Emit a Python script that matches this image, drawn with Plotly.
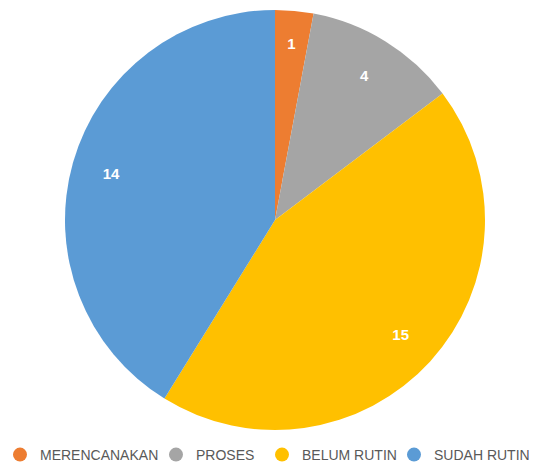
import plotly.graph_objects as go

categories = ["MERENCANAKAN", "PROSES", "BELUM RUTIN", "SUDAH RUTIN"]
values = [1, 4, 15, 14]
colors = ["#ED7D31", "#A5A5A5", "#FFC000", "#5B9BD5"]
legend_widths = [111, 61, 87, 90]

W, H = 539, 480  # figure taller than the 463px window: legend is clipped at the bottom like the reference
CX, CY, R = 275, 220, 210  # pie centre / radius in pixels from the top-left


def domain(r):
    return dict(x=[(CX - r) / W, (CX + r) / W], y=[(H - CY - r) / H, (H - CY + r) / H])


label_font = dict(family="Liberation Sans, Arial", size=15, color="white")
clear = ["rgba(0,0,0,0)"] * len(values)
small = [v / sum(values) < 0.05 for v in values]

fig = go.Figure()
fig.add_trace(go.Pie(
    labels=categories, values=values, sort=False, direction="clockwise",
    rotation=0, marker=dict(colors=colors, line=dict(width=0)),
    textinfo="none", showlegend=False, hoverinfo="label+value", domain=domain(R),
))
# transparent rings carrying the value labels
fig.add_trace(go.Pie(
    labels=categories, values=values, sort=False, direction="clockwise",
    rotation=0, hole=0.62, marker=dict(colors=clear, line=dict(width=0)),
    textposition="inside", insidetextorientation="horizontal", textfont=label_font,
    texttemplate=["" if s else "<b>%{value}</b>" for s in small],
    showlegend=False, hoverinfo="skip", domain=domain(R),
))
fig.add_trace(go.Pie(
    labels=categories, values=values, sort=False, direction="clockwise",
    rotation=0, hole=0.6, marker=dict(colors=clear, line=dict(width=0)),
    textposition="inside", insidetextorientation="horizontal", textfont=label_font,
    texttemplate=["<b>%{value}</b>" if s else "" for s in small],
    showlegend=False, hoverinfo="skip", domain=domain(R - 16),
))
for c, col, lw in zip(categories, colors, legend_widths):
    fig.add_trace(go.Scatter(x=[None], y=[None], mode="markers", name=c,
                             legendwidth=lw,
                             marker=dict(symbol="circle", size=14, color=col)))

fig.update_xaxes(visible=False)
fig.update_yaxes(visible=False)
fig.update_layout(
    width=W, height=H,
    margin=dict(l=0, r=0, t=0, b=0),
    paper_bgcolor="white", plot_bgcolor="white",
    showlegend=True,
    legend=dict(orientation="h", x=0, xanchor="left", y=(H - 455) / H, yanchor="middle",
                bgcolor="rgba(0,0,0,0)",
                font=dict(family="Liberation Sans, Arial", size=14, color="#595959"),
                itemwidth=30, tracegroupgap=0),
)
fig.write_html(
    "out.html",
    config={"displayModeBar": False},
    post_script="document.body.style.margin='0';document.body.style.overflow='hidden';"
                "document.documentElement.style.overflow='hidden';",
)
